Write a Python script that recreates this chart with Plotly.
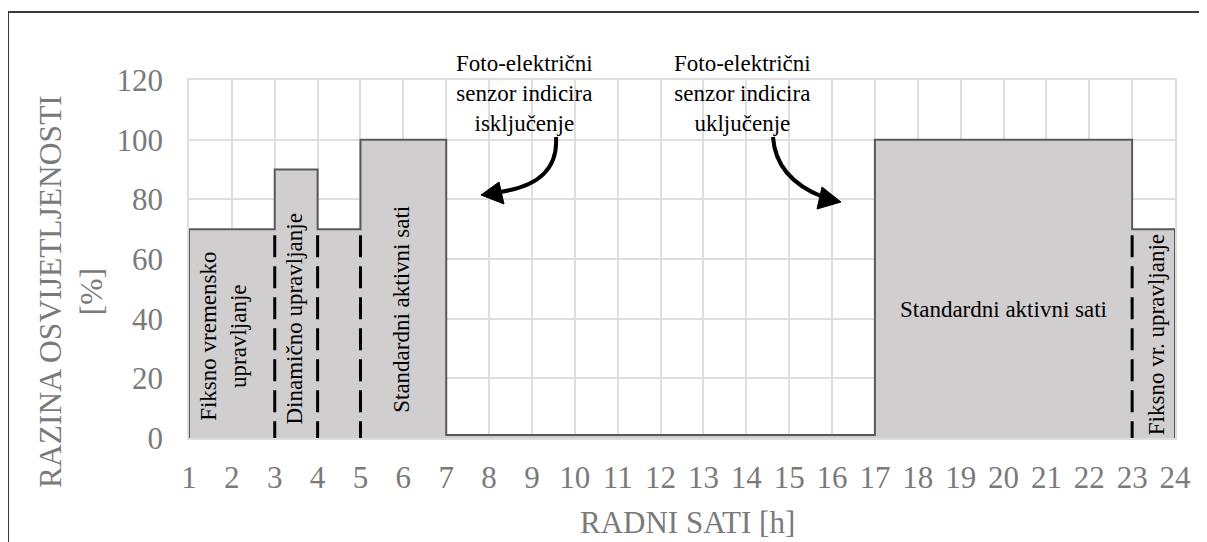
import plotly.graph_objects as go

# ---- data ----
hours = [1, 1, 3, 4, 5, 7, 17, 23, 24, 24]
levels = [0, 70, 90, 70, 100, 1, 100, 70, 70, 0]
boundary_hours = [3, 4, 5, 23]
boundary_level = 70
x_ticks = list(range(1, 25))
y_ticks = [0, 20, 40, 60, 80, 100, 120]

region_labels = [
    (1.8, 34, "Fiksno vremensko<br>upravljanje", -90),
    (3.47, 40, "Dinamično upravljanje", -90),
    (5.97, 43, "Standardni aktivni sati", -90),
    (20.0, 43, "Standardni aktivni sati", 0),
    (23.56, 34.5, "Fiksno vr. upravljanje", -90),
]

# ---- geometry (pixels of the page; the page body adds an 8px offset) ----
PAGE_W, PAGE_H = 1207, 542
OFF = 8
W, H = PAGE_W - OFF, PAGE_H - OFF
L, R, T, B = 189, 1175, 80, 438
X0, X1 = 1, 24
Y0, Y1 = 0, 120


def px2x(px):
    return X0 + (px - L) / (R - L) * (X1 - X0)


def py2y(py):
    return Y0 + (B - py) / (B - T) * (Y1 - Y0)


def px2p(px):
    return (px - L) / (R - L)


def py2p(py):
    return (B - py) / (B - T)


FONT = "Liberation Serif, Times New Roman, serif"
GRAY = "#7a7a7a"
GRID = "#dedede"

fig = go.Figure()

fig.add_trace(go.Scatter(
    x=hours, y=levels, mode="lines", line_shape="hv",
    line=dict(color="#595959", width=2),
    fill="toself", fillcolor="#d0cece",
    hoverinfo="skip", showlegend=False,
))

shapes = []
for h in boundary_hours:
    shapes.append(dict(type="line", xref="x", yref="y", x0=h, x1=h, y0=boundary_level - 2, y1=0,
                       line=dict(color="black", width=3, dash="22px,9px")))


def path_from(points):
    (a, b), (c, d), (e, f), (g, h) = points
    return "M {} {} C {} {} {} {} {} {}".format(px2x(a), py2y(b), px2x(c), py2y(d), px2x(e), py2y(f), px2x(g), py2y(h))


def tri(points):
    return "M " + " L ".join("{} {}".format(px2x(a), py2y(b)) for a, b in points) + " Z"


shapes.append(dict(type="path", xref="x", yref="y",
                   path=path_from([(556, 137), (558, 168), (540, 186), (500, 192)]),
                   line=dict(color="black", width=4)))
shapes.append(dict(type="path", xref="x", yref="y",
                   path=tri([(481, 195), (499, 182), (504, 204)]),
                   fillcolor="black", line=dict(color="black", width=1)))
shapes.append(dict(type="path", xref="x", yref="y",
                   path=path_from([(773, 137), (775, 167), (795, 186), (823, 197)]),
                   line=dict(color="black", width=4)))
shapes.append(dict(type="path", xref="x", yref="y",
                   path=tri([(841, 202), (822, 187), (817, 209)]),
                   fillcolor="black", line=dict(color="black", width=1)))

# outer border (clipped by page on right / bottom)
shapes.append(dict(type="rect", xref="paper", yref="paper",
                   x0=px2p(8), x1=px2p(PAGE_W + 20), y0=py2p(12), y1=py2p(PAGE_H + 20),
                   line=dict(color="#3a3a3a", width=2), fillcolor="rgba(0,0,0,0)", layer="above"))

annotations = []
for x, y, txt, ang in region_labels:
    annotations.append(dict(x=x, y=y, xref="x", yref="y", text=txt, textangle=ang,
                            showarrow=False, font=dict(family=FONT, size=23, color="black"),
                            xanchor="center", yanchor="middle"))

annotations.append(dict(x=px2p(524), y=py2p(93), xref="paper", yref="paper",
                        text="Foto-električni<br>senzor indicira<br>isključenje",
                        showarrow=False, font=dict(family=FONT, size=23, color="black"),
                        xanchor="center", yanchor="middle"))
annotations.append(dict(x=px2p(742), y=py2p(93), xref="paper", yref="paper",
                        text="Foto-električni<br>senzor indicira<br>uključenje",
                        showarrow=False, font=dict(family=FONT, size=23, color="black"),
                        xanchor="center", yanchor="middle"))

annotations.append(dict(x=px2p(687), y=py2p(522), xref="paper", yref="paper",
                        text="RADNI SATI [h]", showarrow=False,
                        font=dict(family=FONT, size=31, color=GRAY),
                        xanchor="center", yanchor="middle"))
annotations.append(dict(x=px2p(71), y=py2p(292), xref="paper", yref="paper",
                        text="RAZINA OSVIJETLJENOSTI<br>[%]", textangle=-90, showarrow=False,
                        font=dict(family=FONT, size=31.5, color=GRAY),
                        xanchor="center", yanchor="middle"))

fig.update_layout(
    width=W, height=H,
    margin=dict(l=L - OFF, r=PAGE_W - R, t=T - OFF, b=PAGE_H - B, pad=0),
    paper_bgcolor="white", plot_bgcolor="white",
    shapes=shapes, annotations=annotations,
    showlegend=False,
    font=dict(family=FONT),
)
fig.update_xaxes(range=[X0, X1], tickvals=x_ticks, ticktext=[str(v) for v in x_ticks],
                 showgrid=True, gridcolor=GRID, gridwidth=1.5,
                 showline=True, linecolor=GRID, linewidth=1.5, mirror=True,
                 zeroline=False, ticks="", ticklabelstandoff=11,
                 tickfont=dict(family=FONT, size=31, color=GRAY))
fig.update_yaxes(range=[Y0, Y1], tickvals=y_ticks,
                 showgrid=True, gridcolor=GRID, gridwidth=1.5,
                 showline=True, linecolor=GRID, linewidth=1.5, mirror=True,
                 zeroline=False, ticks="", ticklabelstandoff=18,
                 tickfont=dict(family=FONT, size=31, color=GRAY))

fig.write_html("out.html")
